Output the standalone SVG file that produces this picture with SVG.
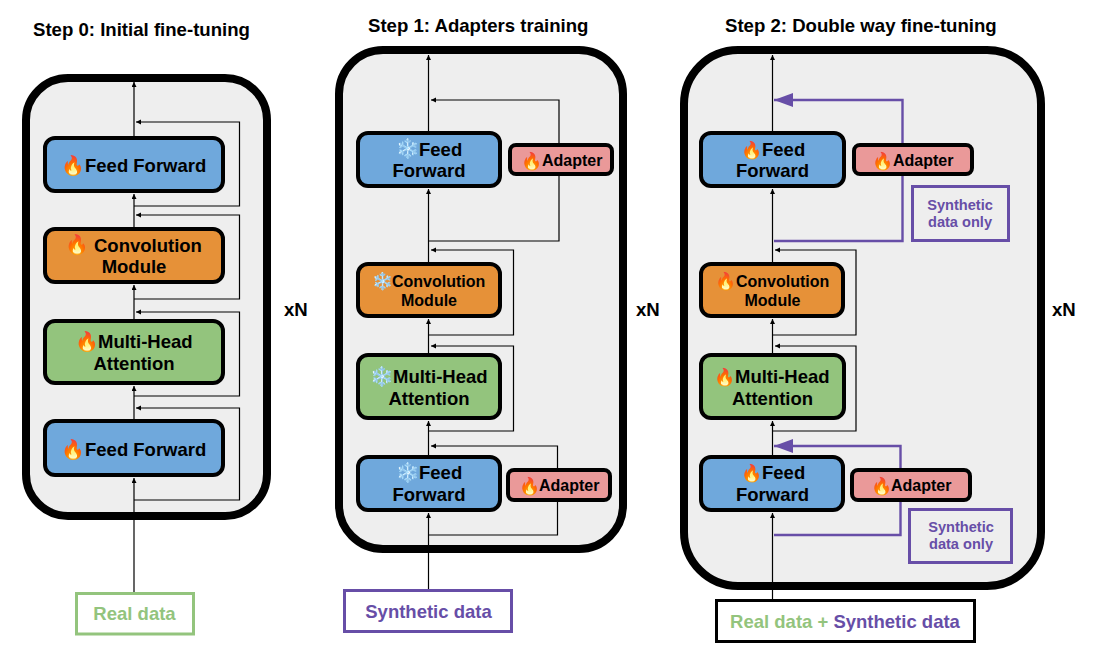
<svg xmlns="http://www.w3.org/2000/svg" width="1110" height="646" viewBox="0 0 1110 646">
<defs>
<marker id="ah" markerUnits="userSpaceOnUse" markerWidth="6" markerHeight="6" refX="5" refY="2.5" orient="auto"><path d="M0 0L5 2.5L0 5Z" fill="#000"/></marker>
<marker id="ap" markerUnits="userSpaceOnUse" markerWidth="20" markerHeight="14" refX="19" refY="7" orient="auto"><path d="M0 0L19 7L0 14Z" fill="#674ea7"/></marker>
</defs>
<style>
text{font-family:"Liberation Sans","Noto Color Emoji",sans-serif;font-weight:700;fill:#000}
.panel{fill:#eee;stroke:#000;stroke-width:8}
.box{stroke:#000;stroke-width:4}
.ff{fill:#6fa8dc}.cv{fill:#e69138}.mh{fill:#93c47d}.ad{fill:#ea9999}
.t18{font-size:18.5px}.t16{font-size:16px}.t14{font-size:14.6px}
.m{text-anchor:middle}
.em{font-size:19px}.es{font-size:17px}
.pu{fill:#674ea7}.gr{fill:#93c47d}
.l{fill:none;stroke:#000;stroke-width:1.2}
.a{marker-end:url(#ah)}
.p{fill:none;stroke:#674ea7;stroke-width:2.4}
.pa{marker-end:url(#ap)}
.note{fill:none;stroke:#674ea7;stroke-width:3}
</style>
<g id="titles">
<text id="title0" x="33" y="36" font-size="18.6">Step 0: Initial fine-tuning</text>
<text id="title1" x="368" y="32" font-size="18.6">Step 1: Adapters training</text>
<text id="title2" x="725" y="32" font-size="18.6">Step 2: Double way fine-tuning</text>
<text x="284" y="316" font-size="18.6">xN</text>
<text x="636" y="316" font-size="18.6">xN</text>
<text x="1052" y="316" font-size="18.6">xN</text>
</g>
<g id="panels">
<rect id="panel0" class="panel" x="26" y="78" width="241" height="438" rx="42"/>
<rect id="panel1" class="panel" x="339" y="50" width="284" height="499" rx="44"/>
<rect id="panel2" class="panel" x="684" y="50" width="357" height="536" rx="54"/>
</g>
<g id="connectors">
<path class="l a" d="M134 592V478"/><path class="l a" d="M134 419V386"/><path class="l a" d="M134 319V285"/><path class="l a" d="M134 227V194"/><path class="l a" d="M134 136V82"/>
<path class="l a" d="M134 206H239.500V122H136"/><path class="l a" d="M134 299H239.500V215H136"/><path class="l a" d="M134 396H239.500V312H136"/><path class="l a" d="M134 500H239.500V408H136"/>
<path class="l a" d="M428.500 589V513"/><path class="l a" d="M428.500 455V421"/><path class="l a" d="M428.500 353V319"/><path class="l a" d="M428.500 262V189"/><path class="l a" d="M428.500 131V55"/>
<path class="l a" d="M429 241H559V100H431"/><path class="l a" d="M429 335H513.500V250H431"/><path class="l a" d="M429 431H513.500V346H431"/><path class="l a" d="M429 535H557.500V446H431"/>
<path class="l a" d="M772.500 599V513"/><path class="l a" d="M772.500 455V421"/><path class="l a" d="M772.500 353V319"/><path class="l a" d="M772.500 262V189"/><path class="l a" d="M772.500 131V55"/>
<path class="l a" d="M773 335H856V250H775"/><path class="l a" d="M773 431H856V346H775"/>
<path class="p pa" d="M774 241H902.500V100H774"/><path class="p pa" d="M774 535H900.500V446H774"/>
</g>
<g id="s0-ff2"><rect class="box ff" x="45" y="138" width="178" height="53" rx="10"/><text class="t18"><tspan class="em" x="61" y="172">🔥</tspan><tspan x="85" y="172">Feed Forward</tspan></text></g>
<g id="s0-conv"><rect class="box cv" x="45" y="229" width="178" height="53" rx="10"/><text class="t18"><tspan class="em" x="65" y="251">🔥</tspan><tspan x="94" y="252">Convolution</tspan><tspan x="134" y="273" text-anchor="middle">Module</tspan></text></g>
<g id="s0-mha"><rect class="box mh" x="45" y="321" width="178" height="62" rx="10"/><text class="t18"><tspan class="em" x="75" y="348">🔥</tspan><tspan x="98" y="348">Multi-Head</tspan><tspan x="134" y="370" text-anchor="middle">Attention</tspan></text></g>
<g id="s0-ff1"><rect class="box ff" x="45" y="421" width="178" height="54" rx="10"/><text class="t18"><tspan class="em" x="61" y="456">🔥</tspan><tspan x="85" y="456">Feed Forward</tspan></text></g>
<g id="s0-data"><rect fill="#fff" stroke="#93c47d" stroke-width="3" x="76.500" y="593.500" width="117" height="40.500"/><text class="t18 m gr" x="134.500" y="619.500">Real data</text></g>
<g id="s1-ff2"><rect class="box ff" x="358" y="133" width="142" height="53" rx="10"/><text class="t18"><tspan class="em" x="396" y="155">❄️</tspan><tspan x="419" y="155.500">Feed</tspan><tspan x="429" y="177" text-anchor="middle">Forward</tspan></text></g>
<g id="s1-ad2"><rect class="box ad" x="510" y="145" width="102" height="29" rx="6"/><text class="t16"><tspan class="es" x="521" y="167">🔥</tspan><tspan x="542" y="166">Adapter</tspan></text></g>
<g id="s1-conv"><rect class="box cv" x="358" y="264" width="142" height="52" rx="10"/><text class="t16"><tspan class="es" x="372" y="287">❄️</tspan><tspan x="392" y="287">Convolution</tspan><tspan x="429" y="306" text-anchor="middle">Module</tspan></text></g>
<g id="s1-mha"><rect class="box mh" x="358" y="355" width="142" height="63" rx="10"/><text class="t18"><tspan class="em" x="370" y="383">❄️</tspan><tspan x="393" y="383">Multi-Head</tspan><tspan x="429" y="404.500" text-anchor="middle">Attention</tspan></text></g>
<g id="s1-ff1"><rect class="box ff" x="358" y="457" width="142" height="53" rx="10"/><text class="t18"><tspan class="em" x="396" y="479">❄️</tspan><tspan x="419" y="479">Feed</tspan><tspan x="429" y="501" text-anchor="middle">Forward</tspan></text></g>
<g id="s1-ad1"><rect class="box ad" x="508" y="470" width="102" height="30" rx="6"/><text class="t16"><tspan class="es" x="519" y="492">🔥</tspan><tspan x="539" y="491">Adapter</tspan></text></g>
<g id="s1-data"><rect fill="#fff" stroke="#674ea7" stroke-width="3" x="344.500" y="590.500" width="167" height="41"/><text class="t18 m pu" x="428.500" y="617.500">Synthetic data</text></g>
<g id="s2-ff2"><rect class="box ff" x="701" y="133" width="143" height="53" rx="10"/><text class="t18"><tspan class="es" x="741" y="156">🔥</tspan><tspan x="762" y="155.500">Feed</tspan><tspan x="772.500" y="177" text-anchor="middle">Forward</tspan></text></g>
<g id="s2-ad2"><rect class="box ad" x="854" y="145" width="118" height="29" rx="6"/><text class="t16"><tspan class="es" x="872" y="167">🔥</tspan><tspan x="893" y="166">Adapter</tspan></text></g>
<g id="s2-note2"><rect class="note" x="912.500" y="186.500" width="96" height="54"/><text class="t14 m pu" x="960" y="210">Synthetic</text><text class="t14 m pu" x="960" y="227">data only</text></g>
<g id="s2-conv"><rect class="box cv" x="701" y="264" width="142" height="52" rx="10"/><text class="t16"><tspan class="es" x="715" y="287">🔥</tspan><tspan x="736" y="287">Convolution</tspan><tspan x="772.500" y="306" text-anchor="middle">Module</tspan></text></g>
<g id="s2-mha"><rect class="box mh" x="701" y="355" width="143" height="63" rx="10"/><text class="t18"><tspan class="es" x="714" y="383">🔥</tspan><tspan x="735" y="383">Multi-Head</tspan><tspan x="772.500" y="404.500" text-anchor="middle">Attention</tspan></text></g>
<g id="s2-ff1"><rect class="box ff" x="701" y="457" width="142" height="53" rx="10"/><text class="t18"><tspan class="es" x="741" y="479">🔥</tspan><tspan x="762" y="479">Feed</tspan><tspan x="772.500" y="501" text-anchor="middle">Forward</tspan></text></g>
<g id="s2-ad1"><rect class="box ad" x="852" y="470" width="118" height="30" rx="6"/><text class="t16"><tspan class="es" x="871" y="492">🔥</tspan><tspan x="891" y="491">Adapter</tspan></text></g>
<g id="s2-note1"><rect class="note" x="909.500" y="509.500" width="102" height="53"/><text class="t14 m pu" x="961" y="532">Synthetic</text><text class="t14 m pu" x="961" y="549">data only</text></g>
<g id="s2-data"><rect fill="#fff" stroke="#000" stroke-width="3" x="716.500" y="600.500" width="258" height="41"/><text class="t18 m" x="845" y="627.500"><tspan class="gr">Real data + </tspan><tspan class="pu">Synthetic data</tspan></text></g>
</svg>
